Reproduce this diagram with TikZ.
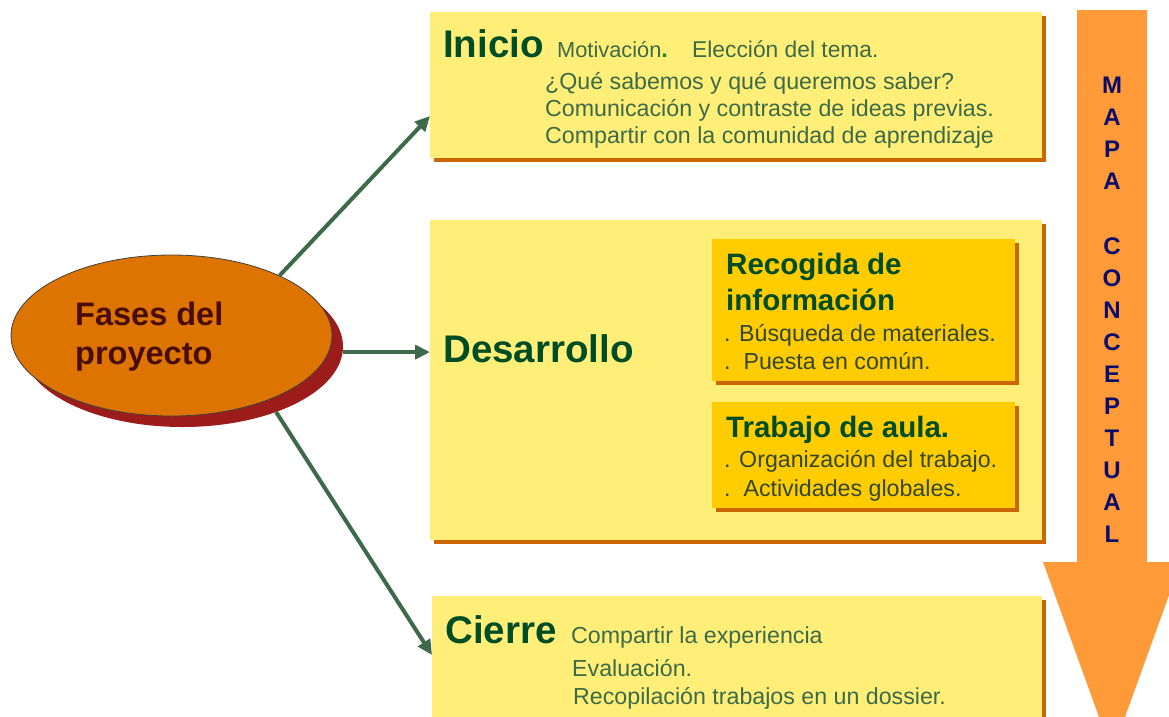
\documentclass[tikz,border=0pt]{standalone}
\usepackage{fontspec}
\setmainfont{Liberation Sans}
\usetikzlibrary{shapes.geometric,arrows.meta,shadows}
\definecolor{boxyellow}{HTML}{FFEF78}
\definecolor{boxshadow}{HTML}{CC6600}
\definecolor{goldbox}{HTML}{FFCC00}
\definecolor{arroworange}{HTML}{FF9A38}
\definecolor{ellfill}{HTML}{DD7400}
\definecolor{ellshadow}{HTML}{9B1C1A}
\definecolor{elltext}{HTML}{4A0B0B}
\definecolor{titlegreen}{HTML}{004D25}
\definecolor{bodygreen}{HTML}{3D6A47}
\definecolor{bodydark}{HTML}{34472E}
\definecolor{linkgreen}{HTML}{3E6A4A}
\definecolor{navytext}{HTML}{0B0B6B}
\definecolor{dotgreen}{HTML}{1E8C1E}
\begin{document}
\begin{tikzpicture}[x=1pt,y=-1pt,
  phasebox/.style={fill=boxyellow,anchor=north west,inner sep=0pt,outer sep=0pt,
    drop shadow={shadow xshift=4pt,shadow yshift=-4pt,fill=boxshadow,opacity=1}},
  subbox/.style={fill=goldbox,anchor=north west,inner sep=0pt,outer sep=0pt,
    minimum width=303pt,
    drop shadow={shadow xshift=4pt,shadow yshift=-4pt,fill=boxshadow,opacity=1}},
  link/.style={draw=linkgreen,line width=4pt,-{Triangle[length=15pt,width=14pt]}},
  bigtitle/.style={anchor=base west,inner sep=0pt,text=titlegreen,
    font=\fontsize{38.5}{44}\selectfont\bfseries},
  subtitle/.style={anchor=base west,inner sep=0pt,text=titlegreen,
    font=\fontsize{29.5}{35}\selectfont\bfseries},
  bodytext/.style={anchor=base west,inner sep=0pt,text=bodygreen,
    font=\fontsize{23.2}{28}\selectfont},
  subtext/.style={anchor=base west,inner sep=0pt,text=bodydark,
    font=\fontsize{23.2}{28}\selectfont},
  elltxt/.style={anchor=base west,inner sep=0pt,text=elltext,
    font=\fontsize{32.5}{40}\selectfont\bfseries},
]
\useasboundingbox (0,0) rectangle (1169,716);
\clip (0,0) rectangle (1169,716);
\fill[white] (0,0) rectangle (1169,716);

% orange arrow
\fill[arroworange] (1077,10) -- (1147,10) -- (1147,562) -- (1181,562)
  -- (1112,753) -- (1043,562) -- (1077,562) -- cycle;
\node[inner sep=0pt,align=center,text=navytext,
  font=\fontsize{24}{32.1}\selectfont\bfseries] (mapa) at (1112,310)
  {M\\A\\P\\A\\[32.1pt]C\\O\\N\\C\\E\\P\\T\\U\\A\\L};

% phase boxes
\node[phasebox,minimum width=612pt,minimum height=146pt] (inicio) at (430,12) {};
\node[phasebox,minimum width=612pt,minimum height=320pt] (desarrollo) at (430,220) {};
\node[phasebox,minimum width=610pt,minimum height=170pt] (cierre) at (432,596) {};

% sub boxes
\node[subbox,minimum height=142pt] (recogida) at (712,239) {};
\node[subbox,minimum height=106pt] (trabajo) at (712,402) {};

% ellipse
\node[ellipse,fill=ellshadow,minimum width=321pt,minimum height=161pt,inner sep=0pt]
  (fasesshadow) at (182.5,346.5) {};
\node[ellipse,fill=ellfill,draw=black!75,line width=0.8pt,minimum width=321pt,
  minimum height=161pt,inner sep=0pt] (fases) at (171.5,335.5) {};
\node[elltxt] (fases1) at (75,325) {Fases del};
\node[elltxt] (fases2) at (75,364) {proyecto};

% Inicio texts
\node[bigtitle] (tinicio) at (443,57) {Inicio};
\node[bodytext,font=\fontsize{21.8}{28}\selectfont] (motiv) at (557,57)
  {Motivación{\color{dotgreen}\bfseries\fontsize{24}{28}\selectfont.}};
\node[bodytext,font=\fontsize{22.8}{28}\selectfont] (elecc) at (692,57) {Elección del tema.};
\node[bodytext] (ini2) at (545,89) {¿Qué sabemos y qué queremos saber?};
\node[bodytext] (ini3) at (545,116) {Comunicación y contraste de ideas previas.};
\node[bodytext] (ini4) at (545,143) {Compartir con la comunidad de aprendizaje};

% Desarrollo texts
\node[bigtitle] (tdesarrollo) at (443,362) {Desarrollo};
\node[subtitle] (rec1) at (726,274) {Recogida de};
\node[subtitle] (rec2) at (726,310) {información};
\node[subtext] (rec3) at (724,341) {. Búsqueda de materiales.};
\node[subtext] (rec4) at (724,369) {.\ \ Puesta en común.};
\node[subtitle] (trab1) at (726,437) {Trabajo de aula.};
\node[subtext] (trab2) at (724,467) {. Organización del trabajo.};
\node[subtext] (trab3) at (724,496) {.\ \ Actividades globales.};

% Cierre texts
\node[bigtitle] (tcierre) at (445,643) {Cierre};
\node[bodytext] (cie1) at (571,643) {Compartir la experiencia};
\node[bodytext] (cie2) at (572,676) {Evaluación.};
\node[bodytext] (cie3) at (573,704) {Recopilación trabajos en un dossier.};

% connectors
\draw[link] (fases.29) -- ([yshift=42pt]inicio.south west);
\draw[link] (fasesshadow.-2) -- (fasesshadow.-2 -| desarrollo.west);
\draw[link] (fasesshadow.-35) -- ([yshift=-59pt]cierre.north west);
\end{tikzpicture}
\end{document}
